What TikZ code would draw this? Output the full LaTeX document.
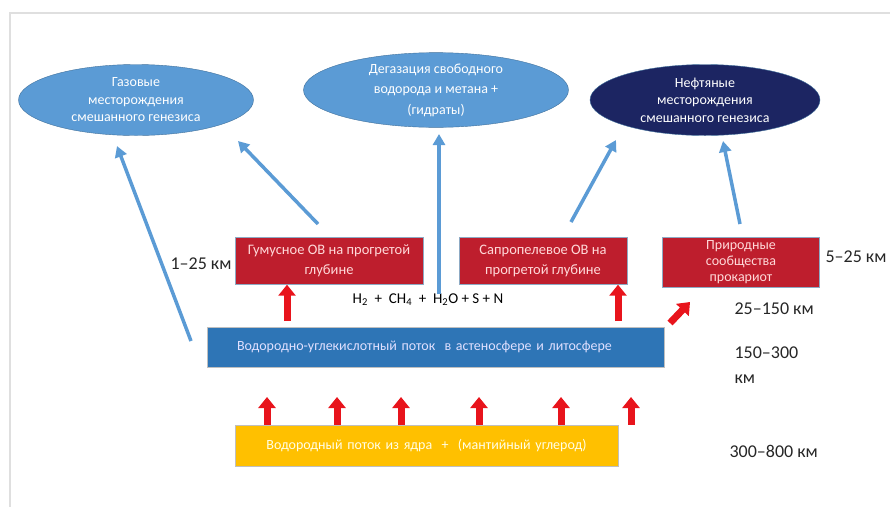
\documentclass[tikz,border=0pt]{standalone}
\usepackage{fontspec}
\setmainfont{Carlito}
\usetikzlibrary{shapes.geometric,arrows.meta}
\definecolor{hellblau}{HTML}{5B9BD5}
\definecolor{randblau}{HTML}{41719C}
\definecolor{dunkelblau}{HTML}{1C2562}
\definecolor{boxrot}{HTML}{BE1E2D}
\definecolor{pfeilrot}{HTML}{E8141C}
\definecolor{balkenblau}{HTML}{2E75B6}
\definecolor{balkengelb}{HTML}{FFC000}
\tikzset{
	ell/.style={ellipse,draw=randblau,fill=hellblau,text=white,align=center,inner sep=0pt,font=\fontsize{14}{17.5}\selectfont},
	rotbox/.style={rectangle,draw=randblau!60,fill=boxrot,text=red!15,align=center,font=\fontsize{14.5}{20}\selectfont},
	balken/.style={rectangle,draw=gray!50,text width=#1,minimum height=40pt},
	bpfeil/.style={draw=hellblau,line width=3.5pt,-{Triangle[length=11pt,width=12pt]}},
	rpfeil/.style={draw=pfeilrot,line width=7pt,-{Triangle[length=11pt,width=17pt]}},
	km/.style={font=\fontsize{18}{21}\selectfont,text=black!85}
}
\begin{document}
\begin{tikzpicture}[x=1pt,y=-1pt]
	\useasboundingbox (0,0) rectangle (890,507);
	\draw[gray!25,line width=2pt] (890,13) -- (10,13) -- (10,507);%Rahmen
	\node[ell,minimum width=235pt,minimum height=71pt] (gas) at (136,100) {Газовые\\месторождения\\смешанного генезиса};%Gas
	\node[ell,minimum width=265pt,minimum height=71pt,font=\fontsize{14}{20.5}\selectfont] (degas) at (436,90) {Дегазация свободного\\водорода и метана +\\(гидраты)};%Entgasung
	\node[ell,fill=dunkelblau,minimum width=230pt,minimum height=71pt] (oil) at (705,100) {Нефтяные\\месторождения\\смешанного генезиса};%Oel
	\node[rotbox,minimum width=188pt,minimum height=47pt] (humus) at (329,261) {Гумусное ОВ на прогретой\\глубине};%Humus
	\node[rotbox,minimum width=168pt,minimum height=47pt] (sapro) at (543,261) {Сапропелевое ОВ на\\прогретой глубине};%Sapropel
	\node[rotbox,minimum width=157pt,minimum height=49pt,font=\fontsize{14}{16}\selectfont] (prok) at (741,262) {Природные\\сообщества\\прокариот};%Prokaryoten
	\node[balken=457pt,fill=balkenblau,text=white!88!blue,font=\fontsize{14}{16}\selectfont,inner sep=0pt,align=left] (flow) at (435.5,347) {\hspace{30pt}Водородно-углекислотный поток\ \ в астеносфере и литосфере};%blauer Balken
	\node[balken=383pt,fill=balkengelb,text=white!90!yellow,font=\fontsize{14}{16}\selectfont,inner sep=0pt,align=center,minimum height=41pt] (core) at (426.5,445.5) {Водородный поток из ядра\ \ +\ \ (мантийный углерод)};%gelber Balken
	\node[font=\fontsize{15}{18}\selectfont] (formel) at (428,300) {H\textsubscript{2}\ \ +\ \ CH\textsubscript{4}\ \ +\ \ H\textsubscript{2}O + S + N};%Formel
	\node[km] (k1) at (201,264) {1–25 км};
	\node[km] (k2) at (856,257) {5–25 км};
	\node[km,anchor=west] (k3) at (731,309) {25–150 км};
	\node[km,anchor=north west,align=left,font=\fontsize{18}{25}\selectfont] (k4) at (731,343) {150–300\\км};
	\node[km,anchor=west] (k5) at (726,451) {300–800 км};
	\coordinate (a1) at (191,341);%Start links
	\coordinate (a2) at (117,146);
	\coordinate (b1) at (318,224);
	\coordinate (b2) at (238,141);
	\coordinate (c1) at (439,294);
	\coordinate (c2) at (439,134);
	\coordinate (d1) at (571,222);
	\coordinate (d2) at (616,140);
	\coordinate (e1) at (740,224);
	\coordinate (e2) at (723,141);
	\draw[bpfeil] (a1) -- (a2);%zu Gas
	\draw[bpfeil] (b1) -- (b2);%Humus zu Gas
	\draw[bpfeil] (c1) -- (c2);%Entgasung
	\draw[bpfeil] (d1) -- (d2);%Sapropel zu Oel
	\draw[bpfeil] (e1) -- (e2);%Prokaryoten zu Oel
	\draw[rpfeil] (287,321) -- (humus.south -| 287,0);%rot unter Humus
	\draw[rpfeil] (618,321) -- (sapro.south -| 618,0);%rot unter Sapropel
	\draw[rpfeil] (670,323) -- (690,302);%rot schraeg
	\foreach \x in {267,337,401,479,561,631}
		\draw[rpfeil] (core.north -| \x,0) -- (\x,397);%rote Pfeile unten
\end{tikzpicture}
\end{document}
